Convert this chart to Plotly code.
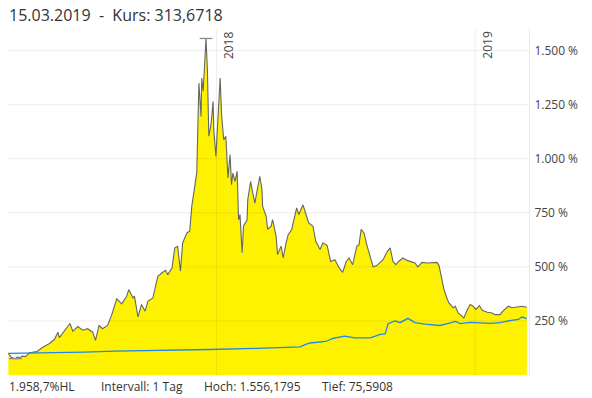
import plotly.graph_objects as go

# ---- data ----
kurs_dates = [
    "2017-03-13", "2017-03-15", "2017-03-17", "2017-03-20", "2017-03-23", "2017-03-26", "2017-03-29",
    "2017-04-02", "2017-04-06", "2017-04-12", "2017-04-22", "2017-04-30", "2017-05-10", "2017-05-17",
    "2017-05-22", "2017-05-24", "2017-05-31", "2017-06-08", "2017-06-12", "2017-06-19", "2017-06-26",
    "2017-07-03", "2017-07-10", "2017-07-14", "2017-07-19", "2017-07-24", "2017-07-31", "2017-08-06",
    "2017-08-13", "2017-08-20", "2017-08-27", "2017-08-30", "2017-09-05", "2017-09-07", "2017-09-12",
    "2017-09-17", "2017-09-22", "2017-09-26", "2017-10-03", "2017-10-10", "2017-10-17", "2017-10-21",
    "2017-10-24", "2017-10-30", "2017-11-03", "2017-11-07", "2017-11-11", "2017-11-14", "2017-11-20",
    "2017-11-24", "2017-11-27", "2017-12-01", "2017-12-04", "2017-12-07", "2017-12-10", "2017-12-11",
    "2017-12-13", "2017-12-17", "2017-12-19", "2017-12-21", "2017-12-24", "2017-12-27", "2017-12-28",
    "2017-12-31", "2018-01-03", "2018-01-06", "2018-01-08", "2018-01-11", "2018-01-14", "2018-01-17",
    "2018-01-20", "2018-01-22", "2018-01-24", "2018-01-27", "2018-01-30", "2018-01-31", "2018-02-01",
    "2018-02-03", "2018-02-06", "2018-02-08", "2018-02-13", "2018-02-14", "2018-02-18", "2018-02-21",
    "2018-02-24", "2018-02-27", "2018-03-03", "2018-03-06", "2018-03-07", "2018-03-12", "2018-03-14",
    "2018-03-19", "2018-03-21", "2018-03-26", "2018-03-28", "2018-04-02", "2018-04-05", "2018-04-09",
    "2018-04-12", "2018-04-17", "2018-04-20", "2018-04-24", "2018-04-27", "2018-05-03", "2018-05-08",
    "2018-05-11", "2018-05-17", "2018-05-21", "2018-05-27", "2018-05-31", "2018-06-06", "2018-06-11",
    "2018-06-17", "2018-06-23", "2018-06-28", "2018-07-03", "2018-07-07", "2018-07-12", "2018-07-18",
    "2018-07-21", "2018-07-24", "2018-07-28", "2018-08-01", "2018-08-06", "2018-08-10", "2018-08-15",
    "2018-08-20", "2018-08-24", "2018-08-30", "2018-09-03", "2018-09-07", "2018-09-11", "2018-09-15",
    "2018-09-21", "2018-09-27", "2018-10-01", "2018-10-08", "2018-10-12", "2018-10-18", "2018-10-25",
    "2018-11-01", "2018-11-08", "2018-11-11", "2018-11-15", "2018-11-18", "2018-11-22", "2018-11-25",
    "2018-12-01", "2018-12-04", "2018-12-08", "2018-12-13", "2018-12-16", "2018-12-21", "2018-12-25",
    "2018-12-29", "2019-01-02", "2019-01-07", "2019-01-11", "2019-01-18", "2019-01-25", "2019-01-29",
    "2019-02-05", "2019-02-09", "2019-02-17", "2019-02-22", "2019-03-01", "2019-03-08", "2019-03-15",
]
kurs_values = [
    100, 90, 82, 78, 75.5908, 84, 80,
    87, 85, 103, 108, 127, 146, 164,
    198, 173, 202, 238, 202, 224, 207,
    214, 198, 160, 229, 214, 229, 279,
    352, 329, 364, 395, 356, 365, 269,
    326, 295, 341, 356, 456, 475, 484,
    464, 495, 588, 595, 480, 610, 657,
    665, 781, 880, 936, 1350, 1196, 1373,
    1312, 1556.1795, 1411, 1104, 1157, 1265, 1135,
    1011, 1204, 1373, 1204, 1088, 1104, 911,
    1019, 880, 934, 895, 942, 826, 718,
    742, 565, 688, 718, 811, 895, 842,
    795, 850, 919, 857, 780, 734, 673,
    688, 718, 641, 557, 596, 541, 610,
    649, 673, 718, 773, 742, 787, 734,
    703, 688, 618, 580, 610, 600, 525,
    533, 495, 475, 525, 541, 510, 596,
    602, 673, 657, 602, 541, 500, 506,
    521, 533, 572, 588, 525, 510, 525,
    541, 530, 525, 518, 500, 521, 518,
    518, 521, 506, 449, 395, 356, 333,
    311, 318, 287, 273, 264, 303, 326,
    318, 303, 321, 299, 290, 287, 279,
    279, 295, 318, 311, 315, 318, 313.6718,
]

bench_dates = [
    "2017-03-13", "2017-05-17", "2017-06-29", "2017-08-10", "2017-09-29", "2017-12-22",
    "2018-02-28", "2018-04-14", "2018-04-29", "2018-05-06", "2018-05-13", "2018-06-04",
    "2018-06-15", "2018-07-01", "2018-07-15", "2018-08-06", "2018-08-20", "2018-08-27",
    "2018-08-31", "2018-09-10", "2018-09-17", "2018-09-28", "2018-10-08", "2018-10-22",
    "2018-11-12", "2018-11-27", "2018-12-04", "2018-12-11", "2018-12-25", "2019-01-22",
    "2019-02-05", "2019-02-19", "2019-03-03", "2019-03-08", "2019-03-15",
]
bench_values = [
    100, 102, 106, 110, 112, 118,
    123, 128, 130, 140, 148, 155,
    170, 180, 172, 172, 188, 190,
    237, 250, 242, 262, 242, 235,
    229, 241, 248, 238, 243, 239,
    242, 251, 257, 268, 261,
]

high_date, high_value = "2017-12-17", 1556.1795
low_date, low_value = "2017-03-23", 75.5908

y_ticks = [250, 500, 750, 1000, 1250, 1500]
y_tick_labels = ["250 %", "500 %", "750 %", "1.000 %", "1.250 %", "1.500 %"]
year_dates = ["2018-01-01", "2019-01-01"]
year_labels = ["2018", "2019"]

title_text = "15.03.2019\u00a0\u00a0-\u00a0\u00a0Kurs: 313,6718"
footer_texts = ["1.958,7%HL", "Intervall: 1 Tag", "Hoch: 1.556,1795", "Tief: 75,5908"]

# ---- figure ----
FONT = "Open Sans"
fig = go.Figure()

fig.add_trace(go.Scatter(
    x=kurs_dates, y=kurs_values, mode="lines", fill="tozeroy",
    fillcolor="#FFF200", line=dict(color="#666666", width=1.1),
    hoverinfo="skip", showlegend=False,
))
fig.add_trace(go.Scatter(
    x=bench_dates, y=bench_values, mode="lines",
    line=dict(color="#1f88e8", width=1.3),
    hoverinfo="skip", showlegend=False,
))
fig.add_trace(go.Scatter(
    x=[high_date, low_date], y=[high_value, low_value], mode="markers",
    marker=dict(symbol="line-ew", size=9, line=dict(color="#8a8a8a", width=1.3)),
    hoverinfo="skip", showlegend=False,
))

# gridlines drawn above the fill
for v in y_ticks:
    fig.add_shape(type="line", xref="paper", x0=0, x1=1, yref="y", y0=v, y1=v,
                  line=dict(color="rgba(0,0,0,0.075)", width=1), layer="above")
for d, lab in zip(year_dates, year_labels):
    fig.add_shape(type="line", xref="x", x0=d, x1=d, yref="paper", y0=0, y1=1,
                  line=dict(color="rgba(0,0,0,0.075)", width=1), layer="above")
    fig.add_annotation(x=d, xref="x", y=1, yref="paper", text=lab, showarrow=False,
                       textangle=-90, xanchor="left", yanchor="top", xshift=1,
                       font=dict(family=FONT, size=12, color="#444"))

fig.add_annotation(x=0, xref="paper", y=1, yref="paper", text=title_text, showarrow=False,
                   xanchor="left", yanchor="middle", yshift=14, xshift=-1,
                   font=dict(family=FONT, size=16, color="#333"))

footer_offsets = [0, 92, 195, 313]
for t, off in zip(footer_texts, footer_offsets):
    fig.add_annotation(x=0, xref="paper", y=0, yref="paper", text=t, showarrow=False,
                       xanchor="left", yanchor="middle", yshift=-11, xshift=off - 1,
                       font=dict(family=FONT, size=12, color="#333"))

fig.update_layout(
    width=592, height=398,
    margin=dict(l=8, r=63, t=29, b=23),
    paper_bgcolor="white", plot_bgcolor="white",
    font=dict(family=FONT, size=12, color="#444"),
    xaxis=dict(range=["2017-03-12 12:00", "2019-03-18"], showgrid=False, zeroline=False,
               showticklabels=False, showline=False, fixedrange=True),
    yaxis=dict(side="right", range=[0, 1600], tickmode="array",
               tickvals=y_ticks, ticktext=y_tick_labels,
               showgrid=False, zeroline=False,
               showline=True, linecolor="#e8e8e8", linewidth=1,
               ticks="", ticklabelstandoff=2, fixedrange=True,
               tickfont=dict(family=FONT, size=12, color="#444")),
)

# remove the default 8px page margin so the figure fills the window exactly
fig.write_html("out.html", config={"displayModeBar": False, "staticPlot": True},
               post_script="document.body.style.margin='0';")
